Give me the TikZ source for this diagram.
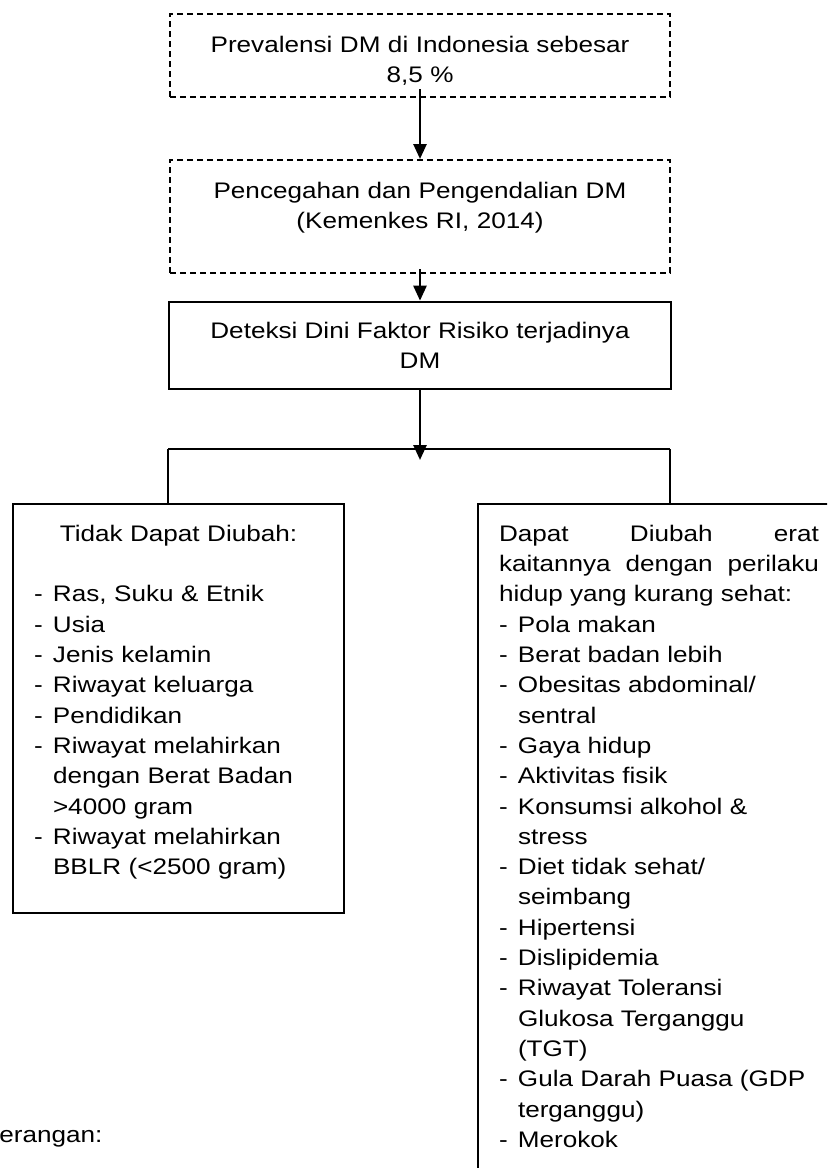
\documentclass[tikz,border=0pt]{standalone}
\usepackage{fontspec}
\setmainfont{Liberation Sans}[FakeStretch=1.16]
\usetikzlibrary{arrows.meta}

% list lines: a dash, or an indented continuation
\newcommand{\butir}[1]{\par\noindent\hbox{\makebox[9.5pt][l]{-}#1}}
\newcommand{\sambung}[1]{\par\noindent\hbox{\hspace*{9.5pt}#1}}

\begin{document}
\begin{tikzpicture}[x=0.5pt,y=-0.5pt,
    every node/.style={font=\fontsize{11.25pt}{15.15pt}\selectfont},
    putus/.style={draw,dash pattern=on 3pt off 2pt,line width=1pt,anchor=north,
      text width=230pt,align=center,inner ysep=0pt,minimum width=250pt,text height=19pt},
    tegas/.style={draw,line width=1.35pt,align=center,minimum width=251pt},
    daftar/.style={draw,line width=1pt,anchor=north west,inner xsep=10.5pt,inner ysep=10.5pt},
    panah/.style={line width=1.3pt,-{Triangle[length=7.5pt,width=6.5pt]}},
    garis/.style={line width=0.85pt}]
  \useasboundingbox (0,0) rectangle (827,1168);
  \clip (0,0) rectangle (827,1168);

  \node[putus,text depth=22.5pt] (prev) at (420,13)
    {Prevalensi DM di Indonesia sebesar\\8,5 \%};
  \node[putus,text depth=37.5pt] (cegah) at (420,159)
    {Pencegahan dan Pengendalian DM\\(Kemenkes RI, 2014)};
  \node[tegas,minimum height=43.5pt] (deteksi) at (420,345.5)
    {Deteksi Dini Faktor Risiko terjadinya\\DM};

  \coordinate (pisah) at (420,460);
  \coordinate (barL) at (168,449);
  \coordinate (barR) at (670,449);

  \node[daftar,text width=144.5pt,text depth=175.5pt,align=left] (tetap) at (12,503) {%
    \hbox to\linewidth{\hfil Tidak Dapat Diubah:\hfil}
    \par\noindent\mbox{}
    \butir{Ras, Suku \& Etnik}
    \butir{Usia}
    \butir{Jenis kelamin}
    \butir{Riwayat keluarga}
    \butir{Pendidikan}
    \butir{Riwayat melahirkan}
    \sambung{dengan Berat Badan}
    \sambung{>4000 gram}
    \butir{Riwayat melahirkan}
    \sambung{BBLR (<2500 gram)}};

  \node[daftar,text width=160pt,text depth=340pt,align=justify] (ubah) at (477,503) {%
    Dapat Diubah erat\linebreak kaitannya dengan perilaku\linebreak hidup yang kurang sehat:
    \butir{Pola makan}
    \butir{Berat badan lebih}
    \butir{Obesitas abdominal/}
    \sambung{sentral}
    \butir{Gaya hidup}
    \butir{Aktivitas fisik}
    \butir{Konsumsi alkohol \&}
    \sambung{stress}
    \butir{Diet tidak sehat/}
    \sambung{seimbang}
    \butir{Hipertensi}
    \butir{Dislipidemia}
    \butir{Riwayat Toleransi}
    \sambung{Glukosa Terganggu}
    \sambung{(TGT)}
    \butir{Gula Darah Puasa (GDP}
    \sambung{terganggu)}
    \butir{Merokok}};

  \node[anchor=base west,inner sep=0pt] (ket) at (-1,1142) {erangan:};

  \draw[panah] ([yshift=4.5pt]prev.south) -- (cegah);
  \draw[panah] ([yshift=2.5pt]cegah.south) -- (deteksi);
  \draw[panah] (deteksi) -- (pisah);
  \draw[garis] (barL) -- (barR);
  \draw[garis] (barL) -- (barL |- tetap.north);
  \draw[garis] (barR) -- (barR |- ubah.north);
\end{tikzpicture}
\end{document}
